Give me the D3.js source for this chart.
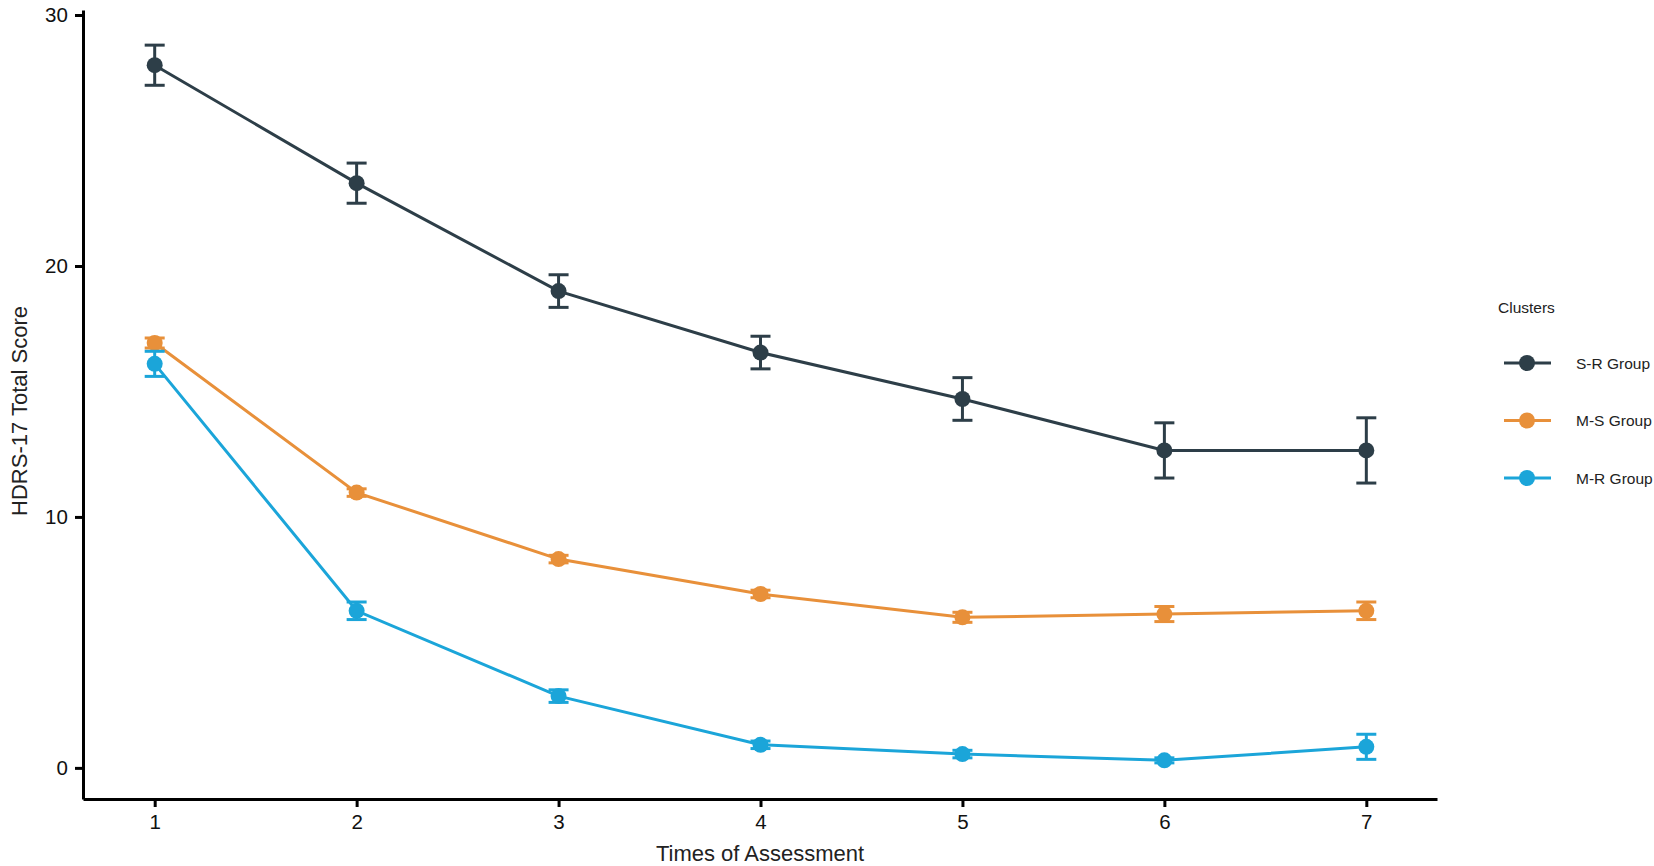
<!DOCTYPE html>
<html>
<head>
<meta charset="utf-8">
<script src="https://cdn.jsdelivr.net/npm/d3@7"></script>
<style>
  body { margin: 0; background: #fff; }
  text { font-family: "Liberation Sans", Arial, sans-serif; }
</style>
</head>
<body>
<svg id="chart" width="1654" height="866"></svg>
<script>
// time points and tick labels
var times = [1, 2, 3, 4, 5, 6, 7];
var yTicks = [0, 10, 20, 30];

// group means and error half-widths
var srMean = [28.0, 23.3, 19.0, 16.55, 14.7, 12.65, 12.65];
var srErr  = [0.8, 0.8, 0.65, 0.65, 0.85, 1.1, 1.3];
var msMean = [16.93, 10.97, 8.32, 6.93, 6.0, 6.13, 6.26];
var msErr  = [0.2, 0.15, 0.15, 0.15, 0.2, 0.3, 0.35];
var mrMean = [16.1, 6.26, 2.86, 0.92, 0.55, 0.3, 0.84];
var mrErr  = [0.5, 0.35, 0.25, 0.15, 0.15, 0.1, 0.5];

var groupNames = ['S-R Group', 'M-S Group', 'M-R Group'];
var groupColors = ['#2d3e48', '#e8903a', '#1ba5d9'];

var groups = [
  { name: groupNames[0], color: groupColors[0], mean: srMean, err: srErr },
  { name: groupNames[1], color: groupColors[1], mean: msMean, err: msErr },
  { name: groupNames[2], color: groupColors[2], mean: mrMean, err: mrErr }
];

var svg = d3.select('#chart');

var x = d3.scaleLinear().domain([0.645, 7.35]).range([83, 1437]);
var y = d3.scaleLinear().domain([-1.24, 30.2]).range([799, 10]);

// axes
var xAxis = svg.append('g')
  .attr('transform', 'translate(0,799)')
  .call(d3.axisBottom(x).tickValues(times).tickFormat(d3.format('d')).tickSize(8).tickSizeOuter(0));
var yAxis = svg.append('g')
  .attr('transform', 'translate(83,0)')
  .call(d3.axisLeft(y).tickValues(yTicks).tickSize(8).tickSizeOuter(0));

[xAxis, yAxis].forEach(function(a) {
  a.select('.domain').attr('stroke', '#000').attr('stroke-width', 3);
  a.selectAll('.tick line').attr('stroke', '#000').attr('stroke-width', 3);
  a.selectAll('.tick text').attr('font-size', 20.5).attr('fill', '#111');
});
xAxis.selectAll('.tick text').attr('dy', '0.95em');
yAxis.selectAll('.tick text').attr('dx', '-0.2em');

svg.append('text')
  .attr('x', 760).attr('y', 861)
  .attr('text-anchor', 'middle')
  .attr('font-size', 22).attr('fill', '#222')
  .text('Times of Assessment');

svg.append('text')
  .attr('transform', 'translate(27,411) rotate(-90)')
  .attr('text-anchor', 'middle')
  .attr('font-size', 22).attr('fill', '#222')
  .text('HDRS-17 Total Score');

var line = d3.line()
  .x(function(d, i) { return x(times[i]); })
  .y(function(d) { return y(d); });

groups.forEach(function(g) {
  var layer = svg.append('g').attr('class', 'group');

  layer.append('path')
    .datum(g.mean)
    .attr('d', line)
    .attr('fill', 'none')
    .attr('stroke', g.color)
    .attr('stroke-width', 3);

  var pts = times.map(function(t, i) { return { t: t, m: g.mean[i], e: g.err[i] }; });

  var bars = layer.selectAll('.err')
    .data(pts)
    .enter().append('g')
    .attr('class', 'err')
    .attr('stroke', g.color)
    .attr('stroke-width', 3);
  bars.append('line')
    .attr('x1', function(d) { return x(d.t); })
    .attr('x2', function(d) { return x(d.t); })
    .attr('y1', function(d) { return y(d.m - d.e); })
    .attr('y2', function(d) { return y(d.m + d.e); });
  bars.append('line')
    .attr('x1', function(d) { return x(d.t) - 10; })
    .attr('x2', function(d) { return x(d.t) + 10; })
    .attr('y1', function(d) { return y(d.m + d.e); })
    .attr('y2', function(d) { return y(d.m + d.e); });
  bars.append('line')
    .attr('x1', function(d) { return x(d.t) - 10; })
    .attr('x2', function(d) { return x(d.t) + 10; })
    .attr('y1', function(d) { return y(d.m - d.e); })
    .attr('y2', function(d) { return y(d.m - d.e); });

  layer.selectAll('circle')
    .data(pts)
    .enter().append('circle')
    .attr('r', 8)
    .attr('cx', function(d) { return x(d.t); })
    .attr('cy', function(d) { return y(d.m); })
    .attr('fill', g.color);
});

// legend
var legend = svg.append('g');
legend.append('text')
  .attr('x', 1498).attr('y', 313)
  .attr('font-size', 15.5).attr('fill', '#222')
  .text('Clusters');

var items = legend.selectAll('.item')
  .data(groups)
  .enter().append('g')
  .attr('class', 'item')
  .attr('transform', function(d, i) { return 'translate(0,' + (363 + i * 57.5) + ')'; });
items.append('line')
  .attr('x1', 1504).attr('x2', 1551)
  .attr('stroke', function(d) { return d.color; })
  .attr('stroke-width', 3);
items.append('circle')
  .attr('cx', 1527).attr('r', 8)
  .attr('fill', function(d) { return d.color; });
items.append('text')
  .attr('x', 1576).attr('y', 5.5)
  .attr('font-size', 15.5).attr('fill', '#222')
  .text(function(d) { return d.name; });
</script>
</body>
</html>
